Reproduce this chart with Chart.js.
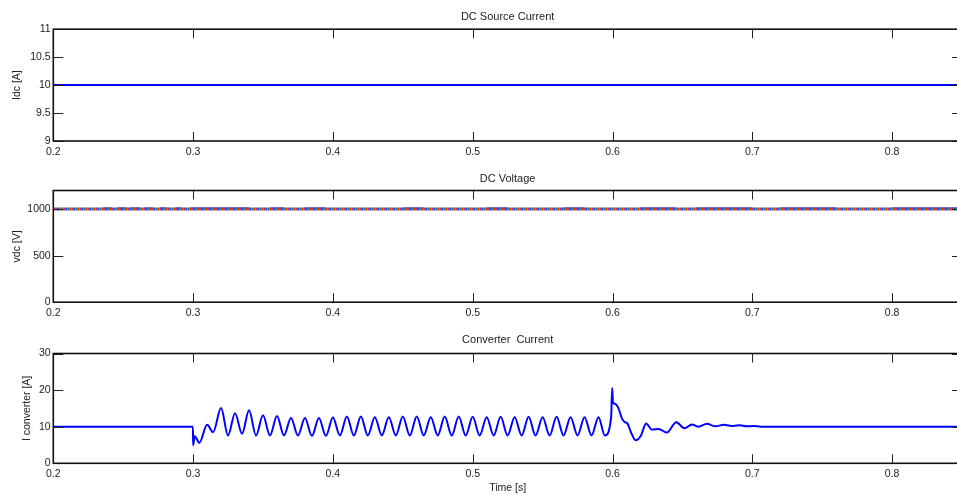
<!DOCTYPE html>
<html>
<head>
<meta charset="utf-8">
<script src="https://cdn.jsdelivr.net/npm/chart.js@4/dist/chart.umd.min.js"></script>
<style>
  html, body { margin: 0; padding: 0; background: #fff; overflow: hidden; width: 957px; height: 495px; }
  canvas { position: absolute; left: 0; }
  #idcChart { top: 0px; }
  #vdcChart { top: 158px; }
  #convChart { top: 320px; }
</style>
</head>
<body>
<canvas id="idcChart" width="962" height="163"></canvas>
<canvas id="vdcChart" width="962" height="167"></canvas>
<canvas id="convChart" width="962" height="175"></canvas>
<script>
// x axis (time, s)
const timeTicks = [0.2, 0.3, 0.4, 0.5, 0.6, 0.7, 0.8];

// DC source current
const idcTime = [0.2, 0.85];
const idcValue = [10, 10];
const idcTicks = [9, 9.5, 10, 10.5, 11];

// DC voltage (several overlapping traces at 1000 V)
const vdcTime = [0.2, 0.85];
const vdcValue = [1000, 1000];
const vdcTicks = [0, 500, 1000];
// short blue chunks sitting just above the stripe
const vdcBlueStart = [0.2356, 0.2456, 0.2549, 0.2656, 0.2764, 0.2871, 0.2978, 0.3550, 0.3800, 0.4500, 0.5100, 0.5650, 0.6200, 0.6600, 0.7200, 0.8000];
const vdcBlueEnd   = [0.2420, 0.2527, 0.2620, 0.2713, 0.2814, 0.2921, 0.3400, 0.3650, 0.3950, 0.4650, 0.5250, 0.5800, 0.6450, 0.7000, 0.7600, 0.8500];
const vdcBlueLevel = 1010;

// Converter current (peaks / troughs)
const convTime = [
  0.2, 0.2999, 0.3, 0.3012, 0.3045, 0.3100, 0.3143,
  0.3200, 0.3250, 0.3300, 0.3350, 0.3400, 0.3450, 0.3500, 0.3550, 0.3600, 0.3650,
  0.3700, 0.3750, 0.3800, 0.3850, 0.3900, 0.3950, 0.4000, 0.4050, 0.4100, 0.4150,
  0.4200, 0.4250, 0.4300, 0.4350, 0.4400, 0.4450, 0.4500, 0.4550, 0.4600, 0.4650,
  0.4700, 0.4750, 0.4800, 0.4850, 0.4900, 0.4950, 0.5000, 0.5050, 0.5100, 0.5150,
  0.5200, 0.5250, 0.5300, 0.5350, 0.5400, 0.5450, 0.5500, 0.5550, 0.5600, 0.5650,
  0.5700, 0.5750, 0.5800, 0.5850, 0.5900, 0.5945, 0.5990,
  0.5998, 0.6003, 0.6020, 0.6043, 0.6068, 0.6090, 0.6104, 0.6132, 0.6165, 0.6204,
  0.6240, 0.6282, 0.6330, 0.6388, 0.6456, 0.6514, 0.6569, 0.6616, 0.6676, 0.6736,
  0.6795, 0.6866, 0.6910, 0.6962, 0.7010, 0.7060, 0.85
];
const convValue = [
  10, 10, 4.9, 7.4, 5.6, 10.5, 8.5,
  15.1, 7.6, 13.7, 8.1, 14.5, 7.6, 13.1, 7.6, 12.9, 7.6,
  12.4, 7.6, 12.4, 7.5, 12.4, 7.5, 12.5, 7.6, 12.8, 7.6,
  12.8, 7.6, 12.6, 7.6, 12.6, 7.6, 12.8, 7.6, 12.8, 7.6,
  12.6, 7.6, 12.8, 7.6, 12.8, 7.6, 12.7, 7.6, 12.6, 7.6,
  12.7, 7.6, 12.6, 7.6, 12.7, 7.6, 12.6, 7.6, 12.7, 7.6,
  12.6, 7.6, 12.6, 7.6, 12.6, 7.6, 12.5,
  20.6, 16.6, 16.2, 15.0, 12.2, 11.2, 11.0, 8.5, 6.3, 7.6,
  10.9, 9.2, 9.4, 8.4, 11.2, 9.6, 10.6, 10.0, 10.8, 10.1,
  10.5, 10.2, 10.4, 10.1, 10.2, 10.0, 10.0
];
const convTicks = [0, 10, 20, 30];

const FONT = '"Liberation Sans", Arial, Helvetica, sans-serif';
const TEXT = '#222';

function points(xs, ys) {
  return xs.map((x, i) => ({ x: x, y: ys[i] }));
}

function blueChunks() {
  const out = [];
  vdcBlueStart.forEach((s, i) => {
    out.push({ x: s, y: vdcBlueLevel });
    out.push({ x: vdcBlueEnd[i], y: vdcBlueLevel });
    out.push({ x: vdcBlueEnd[i] + 0.0001, y: null });
  });
  return out;
}

// MATLAB style box with inward ticks on all four sides
const matlabFrame = {
  id: 'matlabFrame',
  afterDatasetsDraw(chart) {
    const { ctx, chartArea: a, scales: { x, y } } = chart;
    ctx.save();
    ctx.strokeStyle = '#222';
    ctx.lineWidth = 1;
    ctx.beginPath();
    x.ticks.forEach(t => {
      const px = Math.round(x.getPixelForValue(t.value)) + 0.5;
      ctx.moveTo(px, a.bottom); ctx.lineTo(px, a.bottom - 9);
      ctx.moveTo(px, a.top); ctx.lineTo(px, a.top + 9);
    });
    y.ticks.forEach(t => {
      const py = Math.round(y.getPixelForValue(t.value)) + 0.5;
      ctx.moveTo(a.left, py); ctx.lineTo(a.left + 10, py);
      ctx.moveTo(a.right, py); ctx.lineTo(a.right - 10, py);
    });
    ctx.stroke();
    ctx.lineWidth = 1.6;
    ctx.strokeStyle = '#111';
    ctx.strokeRect(a.left, a.top, a.right - a.left, a.bottom - a.top);
    ctx.restore();
  }
};

function makeChart(id, datasets, opts) {
  const ctx = document.getElementById(id).getContext('2d');
  return new Chart(ctx, {
    type: 'line',
    data: { datasets: datasets },
    options: {
      responsive: false,
      animation: false,
      devicePixelRatio: 1,
      layout: { padding: 0 },
      elements: { point: { radius: 0 } },
      plugins: {
        legend: { display: false },
        tooltip: { enabled: false },
        title: {
          display: true,
          text: opts.title,
          fullSize: false,
          color: TEXT,
          font: { family: FONT, size: 11, weight: 'normal' },
          padding: opts.titlePad
        }
      },
      scales: {
        x: {
          type: 'linear',
          min: 0.2,
          max: 0.85,
          grid: { display: false, drawTicks: false },
          border: { display: false },
          afterBuildTicks: s => { s.ticks = timeTicks.map(v => ({ value: v })); },
          ticks: {
            autoSkip: false,
            maxRotation: 0,
            padding: opts.xTickPad,
            color: TEXT,
            font: { family: FONT, size: 10.5 },
            callback: v => v.toFixed(1)
          },
          title: opts.xTitle ? {
            display: true,
            text: opts.xTitle,
            color: TEXT,
            font: { family: FONT, size: 10.5 },
            padding: { top: -3, bottom: 0.7 }
          } : { display: false }
        },
        y: {
          min: opts.yMin,
          max: opts.yMax,
          grid: { display: false, drawTicks: false },
          border: { display: false },
          afterFit: s => { s.width = 53.3; },
          afterBuildTicks: s => { s.ticks = opts.yTicks.map(v => ({ value: v })); },
          ticks: {
            padding: 2.6,
            color: TEXT,
            font: { family: FONT, size: 10.5 },
            callback: v => String(v)
          },
          title: {
            display: true,
            text: opts.yTitle,
            color: TEXT,
            font: { family: FONT, size: 10.5 },
            padding: { top: opts.yTitlePad, bottom: 0 }
          }
        }
      }
    },
    plugins: [matlabFrame]
  });
}

makeChart('idcChart', [{
  data: points(idcTime, idcValue),
  borderColor: '#0000ff',
  borderWidth: 2
}], {
  title: 'DC Source Current',
  titlePad: { top: 10.7, bottom: 5.3 },
  xTickPad: 4.7,
  yMin: 9, yMax: 11, yTicks: idcTicks,
  yTitle: 'Idc [A]', yTitlePad: 10.7
});

makeChart('vdcChart', [
  { data: points(vdcTime, vdcValue), borderColor: '#e8281e', borderWidth: 3, borderDash: [2, 6], borderDashOffset: 0, order: 1 },
  { data: points(vdcTime, vdcValue), borderColor: '#1e9e32', borderWidth: 3, borderDash: [2, 6], borderDashOffset: 2, order: 2 },
  { data: points(vdcTime, vdcValue), borderColor: '#2838e8', borderWidth: 3, borderDash: [2, 6], borderDashOffset: 4, order: 3 },
  { data: points(vdcTime, vdcValue), borderColor: '#8a3aa8', borderWidth: 3, borderDash: [2, 6], borderDashOffset: 6, order: 4 },
  { data: blueChunks(), borderColor: '#5a68f0', borderWidth: 2, spanGaps: false, order: 5 }
], {
  title: 'DC Voltage',
  titlePad: { top: 14, bottom: 5.3 },
  xTickPad: 5.1,
  yMin: 0, yMax: 1200, yTicks: vdcTicks,
  yTitle: 'vdc [V]', yTitlePad: 10.4
});

makeChart('convChart', [{
  data: points(convTime, convValue),
  borderColor: '#0000ff',
  borderWidth: 2,
  cubicInterpolationMode: 'monotone'
}], {
  title: 'Converter  Current',
  titlePad: { top: 13.3, bottom: 7 },
  xTickPad: 4.4,
  xTitle: 'Time [s]',
  yMin: 0, yMax: 30, yTicks: convTicks,
  yTitle: 'I converter [A]', yTitlePad: 20.7
});
</script>
</body>
</html>
